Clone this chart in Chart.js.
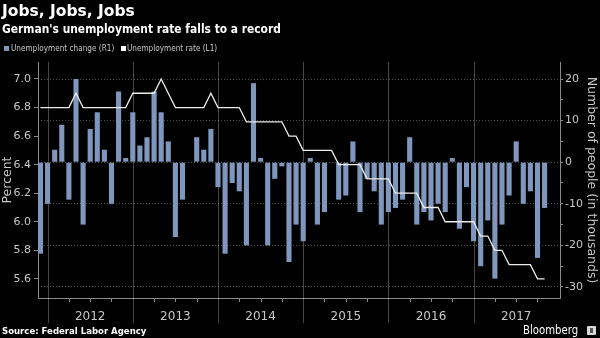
<!DOCTYPE html>
<html>
<head>
<meta charset="utf-8">
<script src="https://cdn.jsdelivr.net/npm/chart.js@4.4.1/dist/chart.umd.min.js"></script>
<style>
  html, body { margin: 0; padding: 0; background: #000; }
  #wrap { position: relative; width: 600px; height: 338px; overflow: hidden; background: #000; }
  #chart { position: absolute; left: 0; top: 0; }
  .title { position: absolute; left: 2px; top: 2px; color: #fff; font: bold 15.5px "DejaVu Sans", sans-serif; }
  .sub { position: absolute; left: 2px; top: 22px; color: #fff; font: bold 11.5px "DejaVu Sans", sans-serif; transform: scaleX(0.93); transform-origin: left top; white-space: nowrap; }
  .lg { position: absolute; top: 41.5px; color: #c8c8c8; font: 9.5px "DejaVu Sans", sans-serif; transform: scaleX(0.77); transform-origin: left top; white-space: nowrap; }
  .box { position: absolute; top: 46px; width: 5px; height: 5px; }
  .source { position: absolute; left: 2px; top: 326px; color: #fff; font: bold 9px "DejaVu Sans", sans-serif; transform: scaleX(0.95); transform-origin: left top; white-space: nowrap; }
  .brand { position: absolute; left: 523px; top: 322.5px; color: #fff; font: 11.5px "DejaVu Sans", sans-serif; transform: scaleX(0.88); transform-origin: left top; white-space: nowrap; }
  .logo { position: absolute; left: 587px; top: 326px; width: 9px; height: 9px; background: #d8d8d8; border-radius: 1px; }
  .logo i { position: absolute; left: 3px; top: 2px; width: 3px; height: 5px; background: #555; }
</style>
</head>
<body>
<div id="wrap">
  <canvas id="chart" width="600" height="338"></canvas>
  <div class="title">Jobs, Jobs, Jobs</div>
  <div class="sub">German's unemployment rate falls to a record</div>
  <div class="box" style="left:4px;background:#7f97bd"></div>
  <div class="lg" style="left:11px">Unemployment change (R1)</div>
  <div class="box" style="left:121px;background:#fff"></div>
  <div class="lg" style="left:127px">Unemployment rate (L1)</div>
  <div class="source">Source: Federal Labor Agency</div>
  <div class="brand">Bloomberg</div>
  <div class="logo"><i></i></div>
</div>
<script>
// monthly data, Nov 2011 .. Oct 2017
var months = [
  '2011-11','2011-12','2012-01','2012-02','2012-03','2012-04','2012-05','2012-06','2012-07','2012-08','2012-09','2012-10',
  '2012-11','2012-12','2013-01','2013-02','2013-03','2013-04','2013-05','2013-06','2013-07','2013-08','2013-09','2013-10',
  '2013-11','2013-12','2014-01','2014-02','2014-03','2014-04','2014-05','2014-06','2014-07','2014-08','2014-09','2014-10',
  '2014-11','2014-12','2015-01','2015-02','2015-03','2015-04','2015-05','2015-06','2015-07','2015-08','2015-09','2015-10',
  '2015-11','2015-12','2016-01','2016-02','2016-03','2016-04','2016-05','2016-06','2016-07','2016-08','2016-09','2016-10',
  '2016-11','2016-12','2017-01','2017-02','2017-03','2017-04','2017-05','2017-06','2017-07','2017-08','2017-09','2017-10'
];

// unemployment change, thousands (R1)
var unemploymentChange = [
  -22, -10, 3, 9, -9, 20, -15, 8, 12, 3, -10, 17,
  1, 12, 4, 6, 17, 12, 5, -18, -9, 0, 6, 3,
  8, -6, -22, -5, -7, -20, 19, 1, -20, -4, -1, -24,
  -15, -19, 1, -15, -12, 0, -9, -8, 5, -12, -4, -7,
  -15, -12, -11, -9, 6, -15, -12, -14, -10, -12, 1, -16,
  -6, -19, -25, -14, -28, -15, -8, 5, -10, -7, -23, -11
];

// unemployment rate, percent (L1)
var unemploymentRate = [
  6.8, 6.8, 6.8, 6.8, 6.8, 6.9, 6.8, 6.8, 6.8, 6.8, 6.8, 6.8,
  6.8, 6.9, 6.9, 6.9, 6.9, 7.0, 6.9, 6.8, 6.8, 6.8, 6.8, 6.8,
  6.9, 6.8, 6.8, 6.8, 6.8, 6.7, 6.7, 6.7, 6.7, 6.7, 6.7, 6.6,
  6.6, 6.5, 6.5, 6.5, 6.5, 6.5, 6.4, 6.4, 6.4, 6.4, 6.3, 6.3,
  6.3, 6.3, 6.2, 6.2, 6.2, 6.2, 6.1, 6.1, 6.1, 6.0, 6.0, 6.0,
  6.0, 6.0, 5.9, 5.9, 5.8, 5.8, 5.7, 5.7, 5.7, 5.7, 5.6, 5.6
];

var leftTicks = [5.6, 5.8, 6.0, 6.2, 6.4, 6.6, 6.8, 7.0];
var rightTicks = [-30, -25, -20, -15, -10, -5, 0, 5, 10, 15, 20];
var yearLabels = ['2012', '2013', '2014', '2015', '2016', '2017'];

var barColor = '#7f97bd';
var tickText = '#c8c8c8';
var axisColor = '#8a8a8a';
var tickFont = { family: '"DejaVu Sans", sans-serif', size: 11 };

var changePoints = unemploymentChange.map(function (v, i) { return { x: i, y: v }; });
var ratePoints = unemploymentRate.map(function (v, i) { return { x: i, y: v }; });

// year label sits under June, year line through December, small tick each quarter
var yearTickIdx = [];
months.forEach(function (m, i) {
  if (m.slice(5) === '06' && yearLabels.indexOf(m.slice(0, 4)) >= 0) yearTickIdx.push(i);
});

var timeMarks = {
  id: 'timeMarks',
  beforeDatasetsDraw: function (chart) {
    var ctx = chart.ctx, a = chart.chartArea, xs = chart.scales.x;
    ctx.save();
    ctx.lineWidth = 1;
    months.forEach(function (m, i) {
      var mm = m.slice(5);
      var px = Math.round(xs.getPixelForValue(i)) + 0.5;
      if (mm === '12') {
        ctx.strokeStyle = 'rgba(255,255,255,0.28)';
        ctx.beginPath(); ctx.moveTo(px, a.top); ctx.lineTo(px, a.bottom + 25); ctx.stroke();
      } else if (mm === '03' || mm === '06' || mm === '09') {
        ctx.strokeStyle = axisColor;
        ctx.beginPath(); ctx.moveTo(px, a.bottom); ctx.lineTo(px, a.bottom + 4); ctx.stroke();
      }
    });
    ctx.restore();
  }
};

var ctx = document.getElementById('chart');
var chart = new Chart(ctx, {
  type: 'bar',
  data: {
    datasets: [{
      type: 'line',
      label: 'Unemployment rate (L1)',
      data: ratePoints,
      yAxisID: 'y',
      borderColor: '#ececec',
      borderWidth: 1.3,
      pointRadius: 0,
      tension: 0,
      order: 0
    }, {
      type: 'bar',
      label: 'Unemployment change (R1)',
      data: changePoints,
      yAxisID: 'y1',
      backgroundColor: barColor,
      borderWidth: 0,
      categoryPercentage: 1,
      barPercentage: 0.72,
      order: 1
    }]
  },
  options: {
    responsive: false,
    animation: false,
    layout: { padding: { top: 62, left: 0, right: 0, bottom: 0 } },
    plugins: { legend: { display: false }, tooltip: { enabled: false } },
    scales: {
      x: {
        type: 'linear',
        min: -0.35,
        max: 73.17,
        offset: false,
        grid: { display: false, drawTicks: false },
        border: { display: true, color: axisColor },
        afterBuildTicks: function (scale) {
          scale.ticks = yearTickIdx.map(function (i) { return { value: i }; });
        },
        afterFit: function (scale) { scale.height = 40; },
        ticks: {
          autoSkip: false,
          maxRotation: 0,
          padding: 12,
          color: tickText,
          font: { family: tickFont.family, size: 12 },
          callback: function (v) { return months[v] ? months[v].slice(0, 4) : ''; }
        }
      },
      y: {
        position: 'left',
        min: 5.466,
        max: 7.119,
        afterBuildTicks: function (scale) {
          scale.ticks = leftTicks.map(function (v) { return { value: v }; });
        },
        afterFit: function (scale) { scale.width = 38; },
        grid: { drawOnChartArea: false, tickLength: 4, tickColor: axisColor },
        border: { display: true, color: axisColor },
        ticks: {
          color: tickText,
          font: tickFont,
          padding: 3,
          callback: function (v) { return v.toFixed(1); }
        },
        title: {
          display: true,
          text: 'Percent',
          color: tickText,
          padding: 0,
          font: { family: '"DejaVu Sans", sans-serif', size: 12.5 }
        }
      },
      y1: {
        position: 'right',
        min: -32.65,
        max: 24.09,
        afterBuildTicks: function (scale) {
          scale.ticks = rightTicks.map(function (v) { return { value: v }; });
        },
        afterFit: function (scale) { scale.width = 40; },
        grid: {
          drawOnChartArea: true,
          tickLength: 3,
          tickColor: axisColor,
          color: function (c) {
            return c.tick && c.tick.value % 10 === 0 ? 'rgba(255,255,255,0.3)' : 'rgba(0,0,0,0)';
          }
        },
        border: { display: true, color: axisColor, dash: [1, 2] },
        ticks: {
          color: tickText,
          font: tickFont,
          padding: 2,
          callback: function (v) { return v % 10 === 0 ? String(v) : ''; }
        },
        title: {
          display: true,
          text: 'Number of people (in thousands)',
          color: tickText,
          padding: { top: 1.5 },
          font: { family: '"DejaVu Sans", sans-serif', size: 12.5 }
        }
      }
    }
  },
  plugins: [timeMarks]
});
</script>
</body>
</html>
